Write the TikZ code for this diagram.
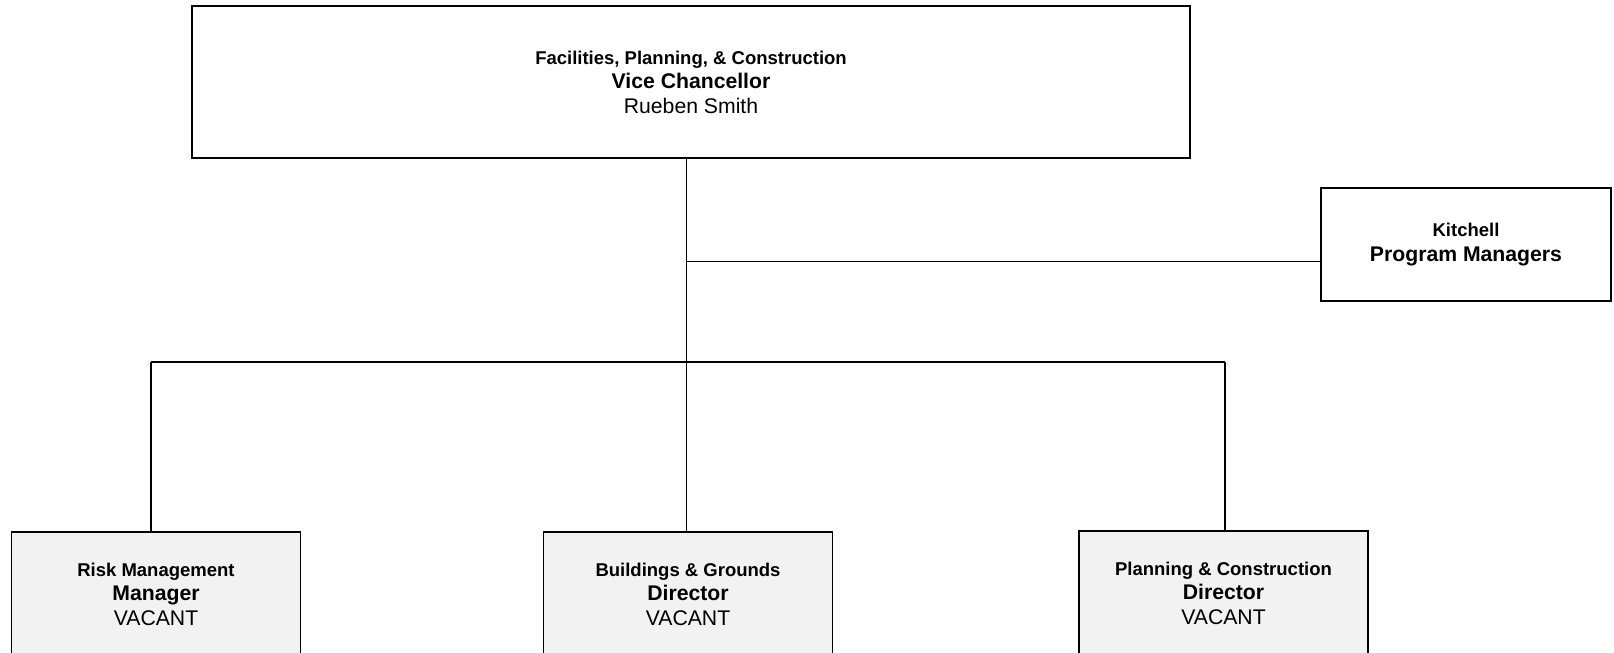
\documentclass[tikz,border=0pt]{standalone}
\usepackage{fontspec}
\setmainfont{Liberation Sans}
\definecolor{boxgray}{HTML}{F2F2F2}
\tikzset{
  box/.style={draw=black, line width=1.8pt, fill=white, align=center, inner sep=0pt,
    font=\fontsize{21.2}{24.5}\selectfont},
  subbox/.style={box, fill=boxgray, minimum width=289pt, minimum height=124pt},
  conn/.style={draw=black, line width=1.9pt},
}
\newcommand{\orgsmallb}[1]{{\fontsize{18.5}{22}\selectfont\bfseries #1}}
\newcommand{\orgbigb}[1]{{\bfseries #1}}
\begin{document}
\begin{tikzpicture}[x=1pt,y=-1pt]
\useasboundingbox (0,0) rectangle (1614,653);
\fill[white] (0,0) rectangle (1614,653);
\begin{scope}
\clip (0,0) rectangle (1614,653);
\node[box, minimum width=998pt, minimum height=151.5pt] (top) at (691,82) {\orgsmallb{Facilities, Planning, \& Construction}\\[0pt]\orgbigb{Vice Chancellor}\\Rueben Smith};
\node[box, minimum width=290.5pt, minimum height=112.5pt] (kit) at (1466,244.5) {\orgsmallb{Kitchell}\\[0pt]\orgbigb{Program Managers}};
\node[subbox] (risk) at (156,594) {\orgsmallb{Risk Management}\\[0pt]\orgbigb{Manager}\\VACANT};
\node[subbox] (bg) at (688,594) {\orgsmallb{Buildings \& Grounds}\\[0pt]\orgbigb{Director}\\VACANT};
\node[subbox] (pc) at (1223.5,593) {\orgsmallb{Planning \& Construction}\\[0pt]\orgbigb{Director}\\VACANT};
\coordinate (bus) at (686.5,362.3);
\coordinate (kj) at (686.5,261.5);
\coordinate (busL) at (151.3,362.3);
\coordinate (busR) at (1225,362.3);
\draw[conn] (top.south -| bus) -- (bus);
\draw[conn] (kj) -- (kit.west |- kj);
\draw[conn] (busL) -- (busR);
\draw[conn] (busL) -- (risk.north -| busL);
\draw[conn] (bus) -- (bg.north -| bus);
\draw[conn] (busR) -- (pc.north -| busR);
\end{scope}
\end{tikzpicture}
\end{document}
